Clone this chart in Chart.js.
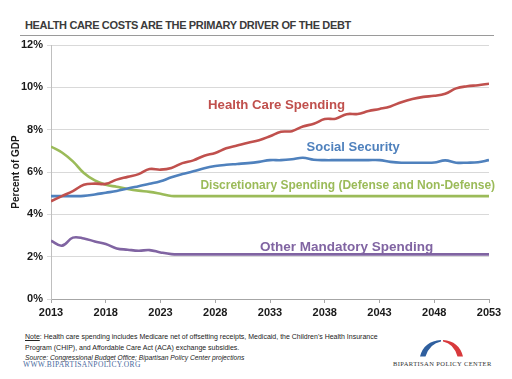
<!DOCTYPE html>
<html>
<head>
<meta charset="utf-8">
<script src="https://cdn.jsdelivr.net/npm/chart.js@4.4.0/dist/chart.umd.min.js"></script>
<style>
  body { margin: 0; width: 512px; height: 379px; background: #fff; position: relative; overflow: hidden; font-family: "Liberation Sans", Arial, sans-serif; }
  .title { position: absolute; left: 25px; top: 19px; font-size: 11px; letter-spacing: -0.35px; font-weight: bold; color: #3b3b3b; white-space: nowrap; }
  .rule { position: absolute; left: 20px; top: 35px; width: 474px; height: 1px; background: #9a9a9a; }
  .chartBox { position: absolute; left: 0; top: 0; width: 512px; height: 330px; }
  .note { position: absolute; left: 25px; top: 332px; font-size: 7px; line-height: 10.5px; color: #222; white-space: nowrap; }
  .note u { text-decoration: underline; }
  .source { position: absolute; left: 25px; top: 354px; font-size: 6.7px; font-style: italic; color: #222; white-space: nowrap; }
  .www { position: absolute; left: 23px; top: 360px; font-family: "Liberation Serif", serif; font-size: 7.5px; color: #4a6a9e; letter-spacing: 0.35px; white-space: nowrap; }
  .bpc { position: absolute; left: 393px; top: 360px; font-family: "Liberation Serif", serif; font-size: 6.5px; color: #333; letter-spacing: 0.4px; white-space: nowrap; }
  .logo { position: absolute; left: 416px; top: 337px; }
</style>
</head>
<body>
<div class="title">HEALTH CARE COSTS ARE THE PRIMARY DRIVER OF THE DEBT</div>
<div class="rule"></div>
<div class="chartBox"><canvas id="chart" width="512" height="330"></canvas></div>
<div class="note"><u>Note</u>: Health care spending includes Medicare net of offsetting receipts, Medicaid, the Children's Health Insurance<br>Program (CHIP), and Affordable Care Act (ACA) exchange subsidies.</div>
<div class="source">Source: Congressional Budget Office; Bipartisan Policy Center projections</div>
<div class="www">WWW.BIPARTISANPOLICY.ORG</div>
<svg class="logo" width="52" height="22" viewBox="0 0 52 22">
  <path d="M4 19.5 Q8 4 25 3 L25 4.6 Q14 6.5 9.5 19.5 Z" fill="#2f5f9e"/>
  <path d="M47 19.5 Q43 4 27 3 L27 4.6 Q37.5 6.5 41.5 19.5 Z" fill="#d8393c"/>
</svg>
<div class="bpc">BIPARTISAN POLICY CENTER</div>

<script>
const years = [2013, 2014, 2015, 2016, 2017, 2018, 2019, 2020, 2021, 2022,
  2023, 2024, 2025, 2026, 2027, 2028, 2029, 2030, 2031, 2032,
  2033, 2034, 2035, 2036, 2037, 2038, 2039, 2040, 2041, 2042,
  2043, 2044, 2045, 2046, 2047, 2048, 2049, 2050, 2051, 2052, 2053];

const healthCare = [4.62, 4.86, 5.1, 5.4, 5.45, 5.44, 5.64, 5.77, 5.9, 6.14,
  6.11, 6.19, 6.42, 6.55, 6.77, 6.9, 7.12, 7.25, 7.38, 7.5,
  7.69, 7.9, 7.93, 8.15, 8.28, 8.5, 8.52, 8.73, 8.74, 8.88,
  8.98, 9.1, 9.3, 9.45, 9.55, 9.6, 9.7, 9.95, 10.05, 10.1, 10.17];

const socialSecurity = [4.86, 4.86, 4.86, 4.87, 4.94, 5.02, 5.1, 5.22, 5.33, 5.44,
  5.56, 5.75, 5.9, 6.03, 6.18, 6.28, 6.34, 6.38, 6.42, 6.48,
  6.56, 6.56, 6.6, 6.67, 6.58, 6.56, 6.56, 6.56, 6.56, 6.56,
  6.56, 6.48, 6.44, 6.44, 6.44, 6.45, 6.55, 6.44, 6.44, 6.46, 6.56];

const discretionary = [7.2, 6.92, 6.5, 5.95, 5.6, 5.4, 5.3, 5.2, 5.12, 5.06,
  4.97, 4.87, 4.86, 4.86, 4.86, 4.86, 4.86, 4.86, 4.86, 4.86,
  4.86, 4.86, 4.86, 4.86, 4.86, 4.86, 4.86, 4.86, 4.86, 4.86,
  4.86, 4.86, 4.86, 4.86, 4.86, 4.86, 4.86, 4.86, 4.86, 4.86, 4.86];

const otherMandatory = [2.75, 2.52, 2.9, 2.86, 2.72, 2.6, 2.39, 2.33, 2.28, 2.31,
  2.2, 2.12, 2.11, 2.11, 2.11, 2.11, 2.11, 2.11, 2.11, 2.11,
  2.11, 2.11, 2.11, 2.11, 2.11, 2.11, 2.11, 2.11, 2.11, 2.11,
  2.11, 2.11, 2.11, 2.11, 2.11, 2.11, 2.11, 2.11, 2.11, 2.11, 2.11];

const seriesNames = ['Health Care Spending', 'Social Security',
  'Discretionary Spending (Defense and Non-Defense)', 'Other Mandatory Spending'];

const yTicks = [0, 2, 4, 6, 8, 10, 12];
const xTicks = [2013, 2018, 2023, 2028, 2033, 2038, 2043, 2048, 2053];

const colors = ['#c0504d', '#4f81bd', '#9bbb59', '#8064a2'];
// where each series name sits, in data units (year, percent), and its font size
const labelSpots = [[2033.6, 9.13], [2040.6, 7.14], [2040.1, 5.34], [2040.0, 2.46]];
const labelSizes = [13.2, 13, 12, 13.5];

const toPoints = arr => arr.map((v, i) => ({ x: years[i], y: v }));

const inlineLabels = {
  id: 'inlineLabels',
  afterDatasetsDraw(chart) {
    const { ctx, scales } = chart;
    ctx.save();
    ctx.textAlign = 'center';
    ctx.textBaseline = 'middle';
    seriesNames.forEach((name, i) => {
      ctx.font = 'bold ' + labelSizes[i] + 'px "Liberation Sans", Arial, sans-serif';
      ctx.fillStyle = colors[i];
      ctx.fillText(name, scales.x.getPixelForValue(labelSpots[i][0]), scales.y.getPixelForValue(labelSpots[i][1]));
    });
    ctx.restore();
  }
};

const seriesData = [healthCare, socialSecurity, discretionary, otherMandatory];

new Chart(document.getElementById('chart').getContext('2d'), {
  type: 'line',
  data: {
    datasets: seriesData.map((arr, i) => ({
      label: seriesNames[i],
      data: toPoints(arr),
      borderColor: colors[i],
      borderWidth: 2.6,
      pointRadius: 0,
      tension: 0.4,
      fill: false
    }))
  },
  options: {
    responsive: false,
    animation: false,
    layout: { padding: { top: 45, right: 23, left: 0, bottom: 0 } },
    plugins: { legend: { display: false }, tooltip: { enabled: false } },
    scales: {
      x: {
        type: 'linear',
        min: 2013,
        max: 2053,
        afterBuildTicks: scale => { scale.ticks = xTicks.map(v => ({ value: v })); },
        afterFit: scale => { scale.height = 31; },
        grid: { drawOnChartArea: false, color: '#a6a6a6', tickLength: 4 },
        border: { color: '#a6a6a6' },
        ticks: {
          color: '#1a1a1a',
          font: { size: 11, weight: 'bold', family: '"Liberation Sans", Arial, sans-serif' },
          padding: 3,
          maxRotation: 0,
          callback: v => String(v)
        }
      },
      y: {
        min: 0,
        max: 12,
        afterBuildTicks: scale => { scale.ticks = yTicks.map(v => ({ value: v })); },
        afterFit: scale => { scale.width = 51; },
        grid: { color: '#d9d9d9', tickLength: 4 },
        border: { color: '#bfbfbf' },
        ticks: {
          color: '#1a1a1a',
          font: { size: 11, weight: 'bold', family: '"Liberation Sans", Arial, sans-serif' },
          padding: 4,
          callback: v => v + '%'
        },
        title: {
          display: true,
          text: 'Percent of GDP',
          color: '#1a1a1a',
          font: { size: 10, weight: 'bold', family: '"Liberation Sans", Arial, sans-serif' },
          padding: { top: 10, bottom: 0 }
        }
      }
    }
  },
  plugins: [inlineLabels]
});
</script>
</body>
</html>
